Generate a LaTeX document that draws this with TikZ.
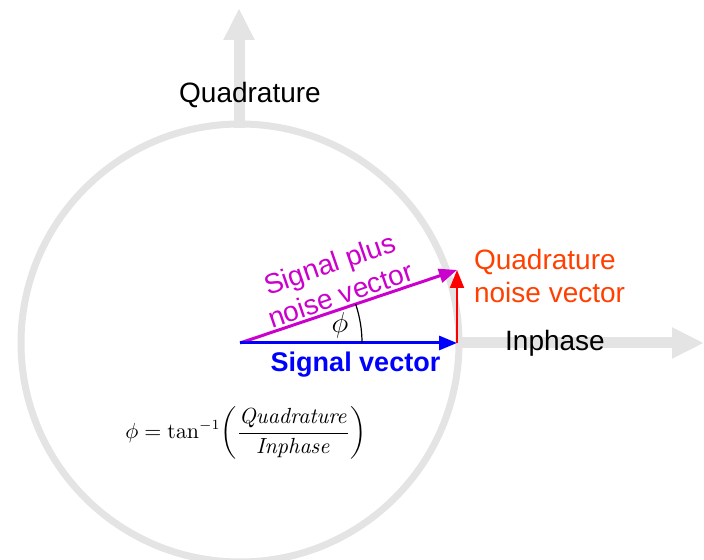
\documentclass[tikz,border=0pt]{standalone}
\usepackage{amsmath}
\usepackage[no-math]{fontspec}
\setmainfont{Liberation Sans}
\usetikzlibrary{arrows.meta,positioning,calc}
\definecolor{mygray}{RGB}{228,228,228}
\definecolor{myblue}{RGB}{0,0,255}
\definecolor{mymagenta}{RGB}{204,0,204}
\definecolor{myorange}{RGB}{255,64,0}
\definecolor{myred}{RGB}{255,0,0}

\begin{document}
\begin{tikzpicture}[x=0.5pt, y=0.5pt,
    axis/.style={draw=mygray, line width=5.5pt,
                 -{Triangle[width=14.5pt, length=16pt]}},
    vec/.style={line width=1.5pt, -{Triangle[width=7pt, length=9pt]}},
    lbl/.style={font=\fontsize{14}{16.5}\selectfont}]
  \useasboundingbox (0,0) rectangle (704,560);

  \coordinate (O) at (240,217);
  \coordinate (S) at (457,217);
  \coordinate (N) at (457,290);
  \coordinate (qbot) at (239,432);
  \coordinate (qtop) at (239,552);
  \coordinate (ileft) at (457,217);
  \coordinate (iright) at (704,217);
  \coordinate (arc0) at ($(O)+(122,0)$);
  \coordinate (M) at ($(O)!0.5!(S)$);

  \draw[mygray, line width=3.5pt] (O) circle[radius=219];
  \draw[axis] (qbot) -- (qtop);
  \draw[axis] (ileft) -- (iright);

  \draw[vec, mymagenta] (O) -- (N);
  \draw[vec, myblue] (O) -- (S);
  \draw[vec, myred, line width=1pt] (S) -- (N);
  \draw[line width=0.6pt] (arc0) arc[start angle=0, end angle=18.6, radius=122];

  \node[lbl] (quadlbl) at (250,465) {Quadrature};
  \node[lbl] (inlbl) at (555,217) {Inphase};
  \node[lbl, text=myorange, align=left, right=5pt of N, yshift=-3pt]
    (noiselbl) {Quadrature\\noise vector};
  \node[lbl, text=myblue, font=\fontsize{13.5}{16}\selectfont\bfseries,
        below=1pt of M, xshift=3.5pt] (siglbl) {Signal vector};
  \node[lbl, text=mymagenta, align=center, rotate=19]
    (sumlbl) at (335,281) {Signal plus\\noise vector};
  \node[font=\fontsize{15}{17}\selectfont] (philbl) at (340,235) {$\phi$};
  \node[font=\fontsize{10.5}{12.5}\selectfont] (formula) at (246,127)
    {$\phi = \tan^{-1}\!\left(\dfrac{\mathit{Quadrature}}{\mathit{Inphase}}\right)$};
\end{tikzpicture}
\end{document}
